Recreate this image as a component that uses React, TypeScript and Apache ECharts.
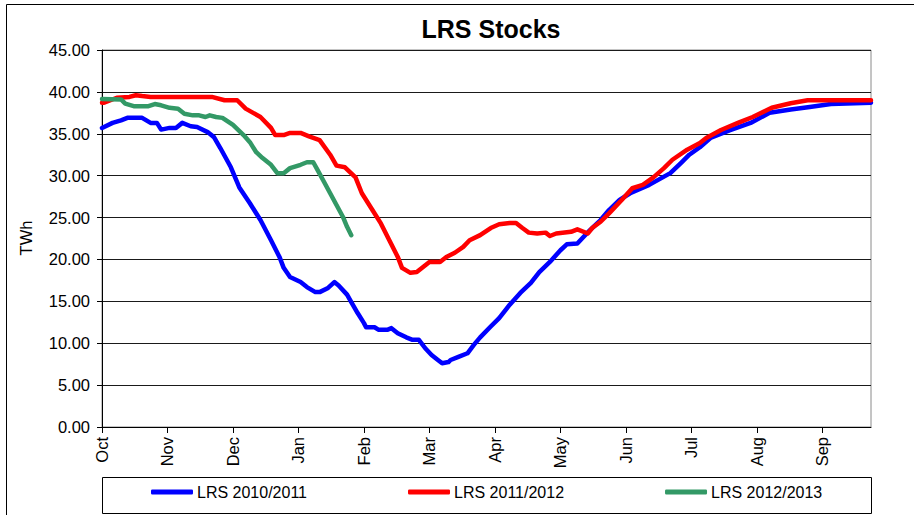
import React, { useEffect, useRef } from "react";
import * as echarts from "echarts";

const monthLabels = ["Oct", "Nov", "Dec", "Jan", "Feb", "Mar", "Apr", "May", "Jun", "Jul", "Aug", "Sep"];
const monthTickDays = [0, 31, 62, 93, 124, 155, 186, 217, 248, 279, 310, 341];
const seriesNames = ["LRS 2010/2011", "LRS 2011/2012", "LRS 2012/2013"];
const seriesColors = ["#0000FF", "#FF0000", "#339966"];

const lrs2010: [number, number][] = [
  [0, 35.7], [5, 36.3], [9, 36.6], [12, 36.9], [19, 36.9], [23, 36.3], [26, 36.3], [28, 35.5],
  [32, 35.7], [35, 35.7], [38, 36.3], [42, 35.9], [45, 35.8], [50, 35.2], [53, 34.6], [56, 33.3],
  [61, 31.0], [65, 28.6], [70, 26.7], [75, 24.7], [80, 22.3], [84, 20.3], [86, 19.0], [89, 17.9],
  [94, 17.3], [97, 16.7], [101, 16.1], [103, 16.1], [107, 16.6], [110, 17.3], [112, 16.9],
  [116, 15.8], [118, 14.9], [121, 13.6], [124, 12.4], [125, 11.9], [129, 11.9], [131, 11.6],
  [135, 11.6], [137, 11.8], [140, 11.2], [144, 10.7], [147, 10.4], [150, 10.4], [153, 9.4],
  [156, 8.6], [159, 8.0], [161, 7.6], [164, 7.75], [165, 8.0], [169, 8.4], [173, 8.8], [176, 9.8],
  [179, 10.7], [184, 12.0], [188, 13.0], [193, 14.6], [198, 16.0], [203, 17.2], [207, 18.5],
  [212, 19.7], [217, 21.1], [220, 21.8], [225, 21.9], [228, 22.7], [231, 23.5], [236, 24.7],
  [240, 25.9], [245, 27.1], [250, 27.9], [259, 28.9], [269, 30.3], [274, 31.5], [278, 32.5],
  [283, 33.4], [288, 34.5], [297, 35.4], [307, 36.3], [316, 37.5], [326, 37.9], [335, 38.2],
  [345, 38.55], [364, 38.7],
];

const lrs2011: [number, number][] = [
  [0, 38.7], [1, 38.7], [7, 39.3], [13, 39.4], [16, 39.6], [19, 39.5], [23, 39.4], [52, 39.4],
  [58, 39.0], [64, 39.0], [68, 38.0], [75, 37.0], [80, 35.7], [82, 34.85], [86, 34.85], [89, 35.1],
  [94, 35.1], [98, 34.7], [103, 34.25], [108, 32.5], [111, 31.2], [115, 31.0], [120, 29.8],
  [123, 27.9], [128, 25.9], [132, 24.3], [136, 22.3], [140, 20.3], [142, 19.0], [146, 18.4],
  [149, 18.5], [152, 19.1], [155, 19.7], [160, 19.7], [163, 20.3], [167, 20.8], [171, 21.5],
  [174, 22.3], [179, 22.9], [184, 23.75], [188, 24.2], [193, 24.35], [196, 24.35], [199, 23.75],
  [202, 23.2], [206, 23.1], [210, 23.2], [212, 22.8], [215, 23.1], [222, 23.3], [225, 23.6],
  [230, 23.1], [232, 23.75], [236, 24.5], [240, 25.5], [246, 27.1], [251, 28.5], [256, 28.9],
  [261, 29.8], [266, 30.9], [270, 31.9], [277, 33.1], [283, 33.9], [286, 34.5], [293, 35.45],
  [301, 36.3], [308, 37.0], [317, 38.1], [326, 38.65], [334, 39.0], [364, 39.0],
];

const lrs2012: [number, number][] = [
  [0, 39.15], [9, 39.1], [11, 38.6], [15, 38.3], [22, 38.3], [25, 38.55], [28, 38.4], [32, 38.1],
  [36, 38.0], [39, 37.4], [43, 37.2], [46, 37.2], [49, 37.0], [51, 37.2], [54, 37.0], [57, 36.9],
  [62, 36.05], [67, 34.85], [70, 34.0], [73, 32.8], [76, 32.1], [80, 31.3], [83, 30.3], [86, 30.3],
  [89, 30.9], [94, 31.3], [97, 31.6], [100, 31.6], [102, 30.7], [105, 29.3], [108, 27.9],
  [111, 26.5], [114, 25.1], [116, 23.9], [118, 22.9],
];

const seriesData = [lrs2010, lrs2011, lrs2012];

const FONT = "'Liberation Sans', Arial, Helvetica, sans-serif";

export default function App() {
  const ref = useRef<HTMLDivElement>(null);

  useEffect(() => {
    if (!ref.current) return;
    const chart = echarts.init(ref.current, null, { renderer: "svg" });
    const option: any = {
      animation: false,
      backgroundColor: "#ffffff",
      textStyle: { fontFamily: FONT },
      title: {
        text: "LRS Stocks",
        left: 486,
        top: 11,
        textAlign: "center",
        textStyle: { fontFamily: FONT, fontSize: 25, fontWeight: "bold", color: "#000" },
      },
      grid: {
        left: 102,
        top: 50,
        right: 43,
        bottom: 88,
        show: true,
        borderColor: "#8a8a8a",
        borderWidth: 1,
        containLabel: false,
      },
      legend: {
        left: 151,
        top: 484,
        padding: 0,
        icon: "roundRect",
        itemWidth: 42,
        itemHeight: 5,
        itemGap: 101,
        data: seriesNames,
        textStyle: { fontFamily: FONT, fontSize: 16, color: "#000", padding: [0, 0, 0, -1] },
      },
      xAxis: {
        type: "value",
        min: 0,
        max: 364,
        interval: 31,
        axisLine: { show: true, lineStyle: { color: "#000", width: 1 } },
        axisTick: { show: true, length: 6, customValues: monthTickDays, lineStyle: { color: "#000" } },
        axisLabel: {
          rotate: 90,
          margin: 10,
          fontFamily: FONT,
          fontSize: 16.5,
          color: "#000",
          customValues: monthTickDays,
          formatter: (v: number) => {
            const i = monthTickDays.indexOf(Math.round(v));
            return i >= 0 ? monthLabels[i] : "";
          },
        },
        splitLine: { show: false },
      },
      yAxis: {
        type: "value",
        min: 0,
        max: 45,
        interval: 5,
        axisLine: { show: true, lineStyle: { color: "#000", width: 1 } },
        axisTick: { show: true, length: 5, lineStyle: { color: "#000" } },
        axisLabel: {
          margin: 12,
          fontFamily: FONT,
          fontSize: 16.5,
          color: "#000",
          formatter: (v: number) => v.toFixed(2),
        },
        splitLine: { show: true, lineStyle: { color: "#1a1a1a", width: 1 } },
      },
      graphic: [
        {
          type: "rect",
          shape: { x: 6.5, y: 4.5, width: 1200, height: 800 },
          style: { fill: "none", stroke: "#000", lineWidth: 1 },
          silent: true,
          z: -10,
        },
        {
          type: "rect",
          shape: { x: 102.5, y: 477.5, width: 769, height: 36 },
          style: { fill: "none", stroke: "#000", lineWidth: 1 },
          silent: true,
        },
        {
          type: "text",
          x: 26,
          y: 238,
          rotation: Math.PI / 2,
          style: {
            text: "TWh",
            fontFamily: FONT,
            fontSize: 16.5,
            fill: "#000000",
            textAlign: "center",
            textVerticalAlign: "middle",
          },
          silent: true,
        },
      ],
      series: seriesData.map((d, i) => ({
        name: seriesNames[i],
        type: "line",
        data: d,
        showSymbol: false,
        symbol: "none",
        smooth: false,
        color: seriesColors[i],
        lineStyle: { color: seriesColors[i], width: 4.5, cap: "round", join: "round" },
        itemStyle: { color: seriesColors[i] },
        z: 2 + i,
      })),
    };
    chart.setOption(option);
    return () => chart.dispose();
  }, []);

  return (
    <div
      ref={ref}
      style={{ position: "absolute", left: 0, top: 0, width: 914, height: 515, background: "#fff" }}
    />
  );
}
